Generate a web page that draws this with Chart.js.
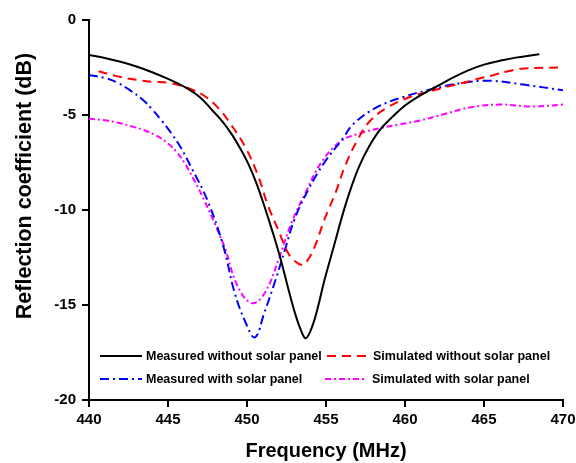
<!DOCTYPE html>
<html>
<head>
<meta charset="utf-8">
<script src="https://cdn.jsdelivr.net/npm/chart.js@4"></script>
<style>
    html, body { margin: 0; padding: 0; background: #fff; }
    #wrap { width: 576px; height: 463px; }
</style>
</head>
<body>
<div id="wrap"><canvas id="chart"></canvas></div>
<script>
// Measured without solar panel
const measNoFreq = [440, 441, 442, 443, 444, 445, 446, 447, 447.8, 448.5, 449.1, 449.6, 450.1, 450.6, 451.1, 451.6, 452.1, 452.6, 453.1, 453.4, 453.7, 454.0, 454.4, 454.9, 455.5, 456.1, 456.6, 457.1, 457.7, 458.4, 459.2, 460, 461, 462, 463, 464, 465, 466, 467, 468.5];
const measNoDb = [-1.84, -2.0, -2.2, -2.45, -2.75, -3.1, -3.5, -4.05, -4.75, -5.4, -6.1, -6.8, -7.6, -8.6, -9.8, -11.1, -12.5, -14.1, -15.6, -16.3, -16.75, -16.4, -15.4, -13.7, -11.9, -10.1, -8.8, -7.7, -6.7, -5.8, -5.1, -4.5, -3.95, -3.5, -3.05, -2.65, -2.35, -2.15, -1.98, -1.8];
// Simulated without solar panel
const simNoFreq = [440.6, 442, 443, 444, 445, 445.8, 446.5, 447.4, 448.2, 448.9, 449.9, 450.7, 451.3, 452.0, 452.5, 452.9, 453.5, 453.8, 454.3, 454.9, 455.6, 456.2, 457.0, 457.8, 458.9, 460.3, 461.4, 462.5, 463.7, 464.6, 465.6, 466.5, 467.5, 470];
const simNoDb = [-2.7, -3.0, -3.15, -3.25, -3.3, -3.45, -3.65, -4.05, -4.65, -5.4, -6.7, -8.2, -9.7, -11.1, -12.1, -12.6, -12.9, -12.7, -11.9, -10.5, -9.1, -7.7, -6.3, -5.3, -4.6, -4.05, -3.8, -3.55, -3.3, -3.1, -2.9, -2.7, -2.55, -2.5];
// Measured with solar panel
const measSolFreq = [440, 441, 441.8, 442.6, 443.4, 444, 444.6, 445.2, 445.8, 446.5, 447.5, 448.5, 449.2, 449.9, 450.5, 451.1, 451.8, 452.4, 453.0, 453.9, 454.9, 456.1, 456.7, 458.2, 459.9, 461.4, 463.7, 465.4, 467.5, 470];
const measSolDb = [-2.9, -3.05, -3.3, -3.7, -4.2, -4.7, -5.3, -5.95, -6.7, -7.8, -9.5, -11.9, -14.3, -15.9, -16.7, -15.4, -13.7, -12.1, -10.5, -8.9, -7.5, -6.2, -5.5, -4.6, -4.05, -3.7, -3.3, -3.2, -3.4, -3.7];
// Simulated with solar panel
const simSolFreq = [440, 441, 441.8, 442.7, 443.5, 444.3, 445.0, 445.6, 446.1, 446.7, 447.3, 448.0, 448.6, 449.4, 450.3, 451.1, 452.0, 452.8, 453.7, 454.7, 455.9, 457.0, 458.4, 459.6, 460.9, 462.5, 464.1, 466.0, 468.0, 470];
const simSolDb = [-5.2, -5.28, -5.4, -5.6, -5.8, -6.1, -6.5, -7.0, -7.6, -8.5, -9.5, -10.8, -12.0, -14.0, -14.9, -14.4, -12.6, -10.7, -9.1, -7.5, -6.4, -6.0, -5.7, -5.5, -5.3, -4.95, -4.6, -4.45, -4.55, -4.45];

const xTicks = [440, 445, 450, 455, 460, 465, 470];
const yTicks = [0, -5, -10, -15, -20];

function pts(xs, ys) {
    return xs.map((x, i) => ({ x: x, y: ys[i] }));
}

const series = [
    { label: "Measured without solar panel", data: pts(measNoFreq, measNoDb), color: "#000000", dash: [] },
    { label: "Simulated without solar panel", data: pts(simNoFreq, simNoDb), color: "#ff0000", dash: [9, 6] },
    { label: "Measured with solar panel", data: pts(measSolFreq, measSolDb), color: "#0000ff", dash: [9, 4, 2, 4] },
    { label: "Simulated with solar panel", data: pts(simSolFreq, simSolDb), color: "#ff00ff", dash: [6, 3, 2, 3] }
];

const fontFamily = "'Liberation Sans', Arial, sans-serif";

// Legend drawn inside the plot (2 x 2) and the y title
const extras = {
    id: "extras",
    afterDatasetsDraw(chart) {
        const ctx = chart.ctx;
        const spots = [
            { x1: 100, x2: 142, tx: 146, y: 356 },
            { x1: 327, x2: 368, tx: 373, y: 356 },
            { x1: 100, x2: 142, tx: 146, y: 379 },
            { x1: 325, x2: 366, tx: 372, y: 379 }
        ];
        ctx.save();
        ctx.font = "bold 12.5px " + fontFamily;
        ctx.textBaseline = "middle";
        chart.data.datasets.forEach((ds, i) => {
            const s = spots[i];
            ctx.strokeStyle = ds.borderColor;
            ctx.lineWidth = 2;
            ctx.setLineDash(ds.borderDash || []);
            ctx.beginPath();
            ctx.moveTo(s.x1, s.y);
            ctx.lineTo(s.x2, s.y);
            ctx.stroke();
            ctx.setLineDash([]);
            ctx.fillStyle = "#000";
            ctx.fillText(ds.label, s.tx, s.y + 1);
        });
        // y axis title, sits a bit above the plot centre in the original
        ctx.translate(25, 186);
        ctx.rotate(-Math.PI / 2);
        ctx.font = "bold 21.5px " + fontFamily;
        ctx.textAlign = "center";
        ctx.fillText("Reflection coefficient (dB)", 0, 0);
        ctx.restore();
    }
};

const tickFont = { family: fontFamily, size: 15, weight: "bold" };
const titleFont = { family: fontFamily, size: 20, weight: "bold" };

new Chart(document.getElementById("chart").getContext("2d"), {
    type: "line",
    data: {
        datasets: series.map(s => ({
            label: s.label,
            data: s.data,
            borderColor: s.color,
            backgroundColor: s.color,
            borderDash: s.dash,
            borderWidth: 2,
            pointRadius: 0,
            fill: false,
            tension: 0.4
        }))
    },
    options: {
        responsive: true,
        maintainAspectRatio: false,
        animation: false,
        layout: { padding: { top: 20, right: 13, left: 0, bottom: 0 } },
        plugins: {
            legend: { display: false },
            tooltip: { enabled: false }
        },
        scales: {
            x: {
                type: "linear",
                min: 440,
                max: 470,
                afterBuildTicks: axis => { axis.ticks = xTicks.map(v => ({ value: v })); },
                afterFit: axis => {
                    axis.height = 63;
                    axis.paddingLeft = 0;
                    axis.paddingRight = 0;
                },
                border: { color: "#000", width: 2 },
                grid: { drawOnChartArea: false, color: "#000", lineWidth: 2, tickLength: 7 },
                ticks: { color: "#000", font: tickFont, padding: 4, maxRotation: 0 },
                title: { display: true, text: "Frequency (MHz)", color: "#000", font: titleFont, padding: { top: 0, bottom: 0 } }
            },
            y: {
                min: -20,
                max: 0,
                afterBuildTicks: axis => { axis.ticks = yTicks.map(v => ({ value: v })); },
                afterFit: axis => {
                    axis.width = 89;
                    axis.paddingTop = 0;
                    axis.paddingBottom = 0;
                },
                border: { color: "#000", width: 2 },
                grid: { drawOnChartArea: false, color: "#000", lineWidth: 2, tickLength: 7 },
                ticks: { color: "#000", font: tickFont, padding: 6 }
            }
        }
    },
    plugins: [extras]
});
</script>
</body>
</html>
